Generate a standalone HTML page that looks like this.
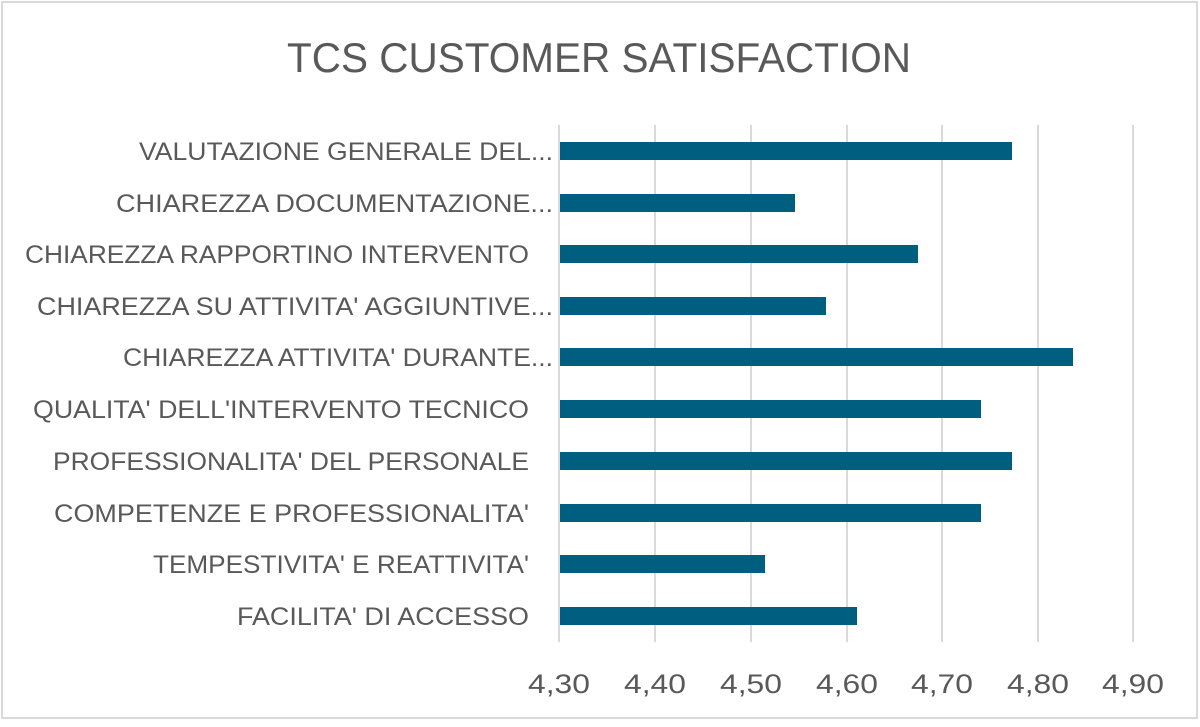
<!DOCTYPE html>
<html><head><meta charset="utf-8"><style>body{margin:0;background:#fff}</style></head><body>
<svg width="1200" height="722" xmlns="http://www.w3.org/2000/svg" font-family="Liberation Sans, sans-serif">
<rect x="2" y="2" width="1195" height="716" fill="#fff" stroke="#d9d9d9" stroke-width="2"/>
<text x="599" y="72" font-size="42" fill="#595959" text-anchor="middle" textLength="624" lengthAdjust="spacingAndGlyphs">TCS CUSTOMER SATISFACTION</text>
<g stroke="#d9d9d9" stroke-width="2">
<line x1="559" y1="125" x2="559" y2="642"/><line x1="655" y1="125" x2="655" y2="642"/><line x1="751" y1="125" x2="751" y2="642"/><line x1="847" y1="125" x2="847" y2="642"/><line x1="942" y1="125" x2="942" y2="642"/><line x1="1038" y1="125" x2="1038" y2="642"/><line x1="1133" y1="125" x2="1133" y2="642"/>
</g>
<g fill="#005f80">
<rect x="560" y="142" width="452" height="18"/>
<rect x="560" y="194" width="235" height="18"/>
<rect x="560" y="245" width="358" height="18"/>
<rect x="560" y="297" width="266" height="18"/>
<rect x="560" y="348" width="513" height="18"/>
<rect x="560" y="400" width="421" height="18"/>
<rect x="560" y="452" width="452" height="18"/>
<rect x="560" y="504" width="421" height="18"/>
<rect x="560" y="555" width="205" height="18"/>
<rect x="560" y="607" width="297" height="18"/>
</g>
<g font-size="25" fill="#595959" lengthAdjust="spacingAndGlyphs">
<text x="139" y="160" textLength="414" lengthAdjust="spacingAndGlyphs">VALUTAZIONE GENERALE DEL...</text>
<text x="116" y="212" textLength="437" lengthAdjust="spacingAndGlyphs">CHIAREZZA DOCUMENTAZIONE...</text>
<text x="25" y="263" textLength="504" lengthAdjust="spacingAndGlyphs">CHIAREZZA RAPPORTINO INTERVENTO</text>
<text x="37" y="315" textLength="516" lengthAdjust="spacingAndGlyphs">CHIAREZZA SU  ATTIVITA' AGGIUNTIVE...</text>
<text x="123" y="366" textLength="430" lengthAdjust="spacingAndGlyphs">CHIAREZZA ATTIVITA' DURANTE...</text>
<text x="33" y="418" textLength="496" lengthAdjust="spacingAndGlyphs">QUALITA' DELL'INTERVENTO TECNICO</text>
<text x="53" y="470" textLength="476" lengthAdjust="spacingAndGlyphs">PROFESSIONALITA' DEL PERSONALE</text>
<text x="54" y="522" textLength="475" lengthAdjust="spacingAndGlyphs">COMPETENZE   E PROFESSIONALITA'</text>
<text x="153" y="573" textLength="376" lengthAdjust="spacingAndGlyphs">TEMPESTIVITA'  E REATTIVITA'</text>
<text x="237" y="625" textLength="292" lengthAdjust="spacingAndGlyphs">FACILITA' DI ACCESSO</text>
</g>
<g font-size="27" fill="#595959" text-anchor="middle">
<text x="559" y="693" textLength="62" lengthAdjust="spacingAndGlyphs">4,30</text><text x="655" y="693" textLength="62" lengthAdjust="spacingAndGlyphs">4,40</text><text x="751" y="693" textLength="62" lengthAdjust="spacingAndGlyphs">4,50</text><text x="847" y="693" textLength="62" lengthAdjust="spacingAndGlyphs">4,60</text><text x="942" y="693" textLength="62" lengthAdjust="spacingAndGlyphs">4,70</text><text x="1038" y="693" textLength="62" lengthAdjust="spacingAndGlyphs">4,80</text><text x="1133" y="693" textLength="62" lengthAdjust="spacingAndGlyphs">4,90</text>
</g>
</svg>
</body></html>
